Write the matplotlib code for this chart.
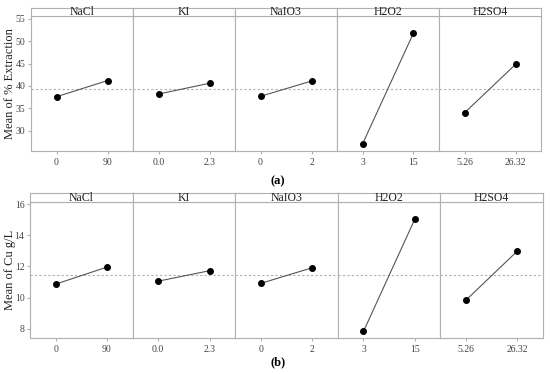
import matplotlib
matplotlib.use("Agg")
import matplotlib.pyplot as plt

factors = ["NaCl", "KI", "NaIO3", "H2O2", "H2SO4"]
levels = [["0", "90"], ["0.0", "2.3"], ["0", "2"], ["3", "15"], ["5.26", "26.32"]]
extraction = [[37.6, 41.2], [38.2, 40.6], [37.7, 41.1], [27.05, 51.8], [34.0, 44.8]]
extraction_mean = 39.3
cu = [[10.87, 11.96], [11.06, 11.73], [10.92, 11.92], [7.84, 15.02], [9.85, 12.99]]
cu_mean = 11.43

W, H = 550, 374
fig = plt.figure(figsize=(W / 100, H / 100), dpi=100)
FONT = "Liberation Serif"
GREY = "#b0b0b0"


def panel_row(data, mean, top_strip, strip_bot, plot_bot, left, right, ylim, yticks, ylabel, tag, tag_y):
    n = len(factors)
    pw = (right - left) / n
    for i, f in enumerate(factors):
        x0 = left + i * pw
        ax = fig.add_axes([x0 / W, 1 - plot_bot / H, pw / W, (plot_bot - strip_bot) / H])
        ax.plot([0.25, 0.75], data[i], color="#555555", lw=0.8, zorder=2)
        ax.scatter([0.25, 0.75], data[i], s=16, color="black", zorder=3)
        ax.axhline(mean, color=GREY, lw=0.8, ls=(0, (2, 2)), zorder=1)
        ax.set_xlim(0, 1)
        ax.set_ylim(*ylim)
        ax.set_xticks([0.25, 0.75])
        ax.set_xticklabels(levels[i], fontsize=7, color="#444444", family=FONT)
        ax.tick_params(axis="x", length=2, color=GREY, pad=3)
        for s in ax.spines.values():
            s.set_color(GREY)
            s.set_linewidth(0.8)
        if i == 0:
            ax.set_yticks(yticks)
            ax.set_yticklabels([str(t) for t in yticks], fontsize=7, color="#444444", family=FONT)
            ax.tick_params(axis="y", length=2, color=GREY, pad=2)
            ax.set_ylabel(ylabel, fontsize=9, family=FONT, color="#222222")
            ax.yaxis.set_label_coords((16 - x0) / pw, 0.5)
        else:
            ax.set_yticks([])
        sax = fig.add_axes([x0 / W, 1 - strip_bot / H, pw / W, (strip_bot - top_strip) / H])
        sax.set_xticks([])
        sax.set_yticks([])
        for s in sax.spines.values():
            s.set_color(GREY)
            s.set_linewidth(0.8)
        sax.text(0.5, 0.45, f, ha="center", va="center", fontsize=8.5, family=FONT, color="#222222",
                 transform=sax.transAxes)
    fig.text(278 / W, 1 - tag_y / H, tag, ha="center", va="center", fontsize=9, family=FONT,
             weight="bold")


panel_row(extraction, extraction_mean, 8, 16, 151, 31, 541, (25.5, 55.6),
          [30, 35, 40, 45, 50, 55], "Mean of % Extraction", "(a)", 181)
panel_row(cu, cu_mean, 193, 201.7, 338, 30, 543, (7.42, 16.15),
          [8, 10, 12, 14, 16], "Mean of Cu g/L", "(b)", 362)

fig.savefig("out.png", dpi=100)
